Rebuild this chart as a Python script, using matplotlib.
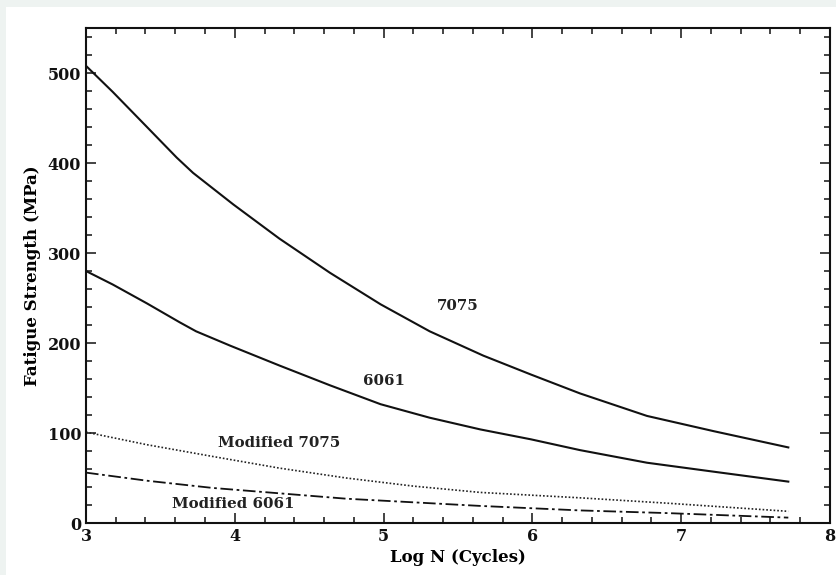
import matplotlib.pyplot as plt
from matplotlib.ticker import MultipleLocator
from matplotlib.patches import Rectangle

# Values
log_n_7075 = [3.0, 3.18, 3.41, 3.61, 3.72, 3.99, 4.30, 4.64, 4.98, 5.31, 5.67, 5.99, 6.32,
              6.77, 7.22, 7.72]
s_7075 = [508, 479, 440, 406, 389, 354, 316, 278, 243, 213, 186, 165, 144, 119, 102, 84]

log_n_6061 = [3.0, 3.18, 3.41, 3.63, 3.74, 3.97, 4.30, 4.64, 4.98, 5.31, 5.65, 5.99, 6.32,
              6.77, 7.22, 7.72]
s_6061 = [280, 265, 244, 223, 213, 197, 175, 153, 132, 117, 104, 93, 81, 67, 57, 46]

log_n_mod = [3.0, 3.41, 3.85, 4.30, 4.75, 5.20, 5.65, 6.32, 6.91, 7.72]
s_mod_7075 = [101, 87, 74, 61, 50, 41, 34, 28, 22, 13]
s_mod_6061 = [56, 47, 39, 33, 27, 23, 19, 14, 11, 6]

labels = ['7075', '6061', 'Modified 7075', 'Modified 6061']
label_pos = [(5.50, 241), (5.00, 158), (4.30, 89), (3.99, 21)]

plt.rcParams['font.family'] = ['DejaVu Serif']
plt.rcParams['font.weight'] = 'bold'
plt.rcParams['axes.labelweight'] = 'bold'

fig = plt.figure(figsize=(8.37, 5.75), dpi=100)
# light frame on the left/top edges like the scanned source
fig.patches.append(Rectangle((0, 0), 1, 1, transform=fig.transFigure,
                             facecolor='#eef3f1', edgecolor='none', zorder=-2))
fig.patches.append(Rectangle((6 / 837, 0), 1, 1 - 7 / 575, transform=fig.transFigure,
                             facecolor='white', edgecolor='none', zorder=-1))

ax = fig.add_axes([0.1027, 0.0904, 0.8889, 0.8609])
ax.set_facecolor('none')

ax.plot(log_n_7075, s_7075, color='#111111', lw=1.5)
ax.plot(log_n_6061, s_6061, color='#111111', lw=1.5)
ax.plot(log_n_mod, s_mod_7075, color='#222222', lw=1.2, linestyle=(0, (1, 1.2)))
ax.plot(log_n_mod, s_mod_6061, color='#111111', lw=1.3, linestyle=(0, (7, 2, 1.5, 2)))

for text, (x, y) in zip(labels, label_pos):
    ax.text(x, y, text, ha='center', va='center', fontsize=10.8, color='#222222')

ax.set_xlim(3, 8)
ax.set_ylim(0, 550)
ax.xaxis.set_major_locator(MultipleLocator(1))
ax.xaxis.set_minor_locator(MultipleLocator(0.2))
ax.yaxis.set_major_locator(MultipleLocator(100))
ax.yaxis.set_minor_locator(MultipleLocator(20))
ax.tick_params(which='both', direction='in', top=True, right=True, colors='#111111',
               labelsize=11.5, width=1.1)
ax.tick_params(which='major', length=7)
ax.tick_params(which='minor', length=4.5)
for spine in ax.spines.values():
    spine.set_linewidth(1.5)
    spine.set_color('#111111')

ax.set_xlabel('Log N (Cycles)', fontsize=12, labelpad=3)
ax.set_ylabel('Fatigue Strength (MPa)', fontsize=12, labelpad=5)

fig.savefig('out.png', dpi=100)
plt.close(fig)
